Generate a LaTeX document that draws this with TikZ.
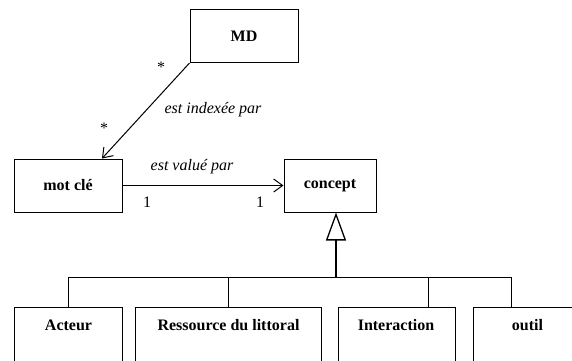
\documentclass[tikz,border=0pt]{standalone}
\usepackage{fontspec}
\setmainfont{Liberation Serif}
\usetikzlibrary{arrows.meta,positioning}

\begin{document}
\begin{tikzpicture}[
    x=1pt, y=-1pt,
    classbox/.style={rectangle, draw=black, line width=1pt, minimum width=108pt, minimum height=53pt, inner sep=0pt, font=\fontsize{16}{18}\selectfont\bfseries},
    leafbox/.style={rectangle, draw=black, line width=1pt, minimum height=80pt, inner sep=0pt, anchor=north west},
    leaftext/.style={font=\fontsize{16}{18}\selectfont\bfseries},
    rolelabel/.style={font=\fontsize{16}{18}\selectfont, inner sep=0pt},
    assoclabel/.style={font=\fontsize{16}{18}\selectfont\itshape, inner sep=0pt},
    assoc/.style={line width=1pt, -{Straight Barb[length=9pt, width=13pt, line width=1pt]}},
    bus/.style={line width=1pt},
    stem/.style={line width=2pt, -{Triangle[open, length=28pt, width=20pt, line width=1.3pt]}}
]

% Frame of the page, bottom boxes run past it
\useasboundingbox (0,0) rectangle (572,360);
\clip (0,0) rectangle (572,360);

% Classes
\node[classbox] (md) at (244,36) {MD};
\node[classbox] (motcle) at (68,185.5) {mot clé};
\node[classbox, minimum width=92pt] (concept) at (330,185.5) {concept};

% Sub classes of concept
\node[leafbox, minimum width=108pt] (acteur) at (14,307) {};
\node[leafbox, minimum width=186pt] (ressource) at (135,307) {};
\node[leafbox, minimum width=117pt] (interaction) at (338,307) {};
\node[leafbox, minimum width=130pt] (outil) at (473,307) {};

\node[leaftext] at ([yshift=-18pt]acteur.north) {Acteur};
\node[leaftext] at ([yshift=-18pt]ressource.north) {Ressource du littoral};
\node[leaftext] at ([yshift=-18pt, xshift=-1pt]interaction.north) {Interaction};
\node[leaftext] at ([yshift=-18pt, xshift=-11pt]outil.north) {outil};

% Association MD - mot cle
\draw[assoc] (md.south west) -- ([xshift=34pt]motcle.north);
\node[rolelabel] (starmd) at (161,67) {*};
\node[rolelabel] (starmc) at (104,128) {*};
\node[assoclabel] (indexee) at (213,110) {est indexée par};

% Association mot cle - concept
\draw[assoc] (motcle.east) -- (concept.west);
\node[assoclabel] (value) at (192,167) {est valué par};
\node[rolelabel] (onemc) at (147,202) {1};
\node[rolelabel] (onec) at (260,202) {1};

% Generalisation
\coordinate (gen) at (336,277);
\draw[stem] (gen) -- (gen |- concept.south);
\draw[bus] (acteur.north) |- (gen);
\draw[bus] (ressource.north) |- (gen);
\draw[bus] ([xshift=31pt]interaction.north) |- (gen);
\draw[bus] ([xshift=-27pt]outil.north) |- (gen);

\end{tikzpicture}
\end{document}
